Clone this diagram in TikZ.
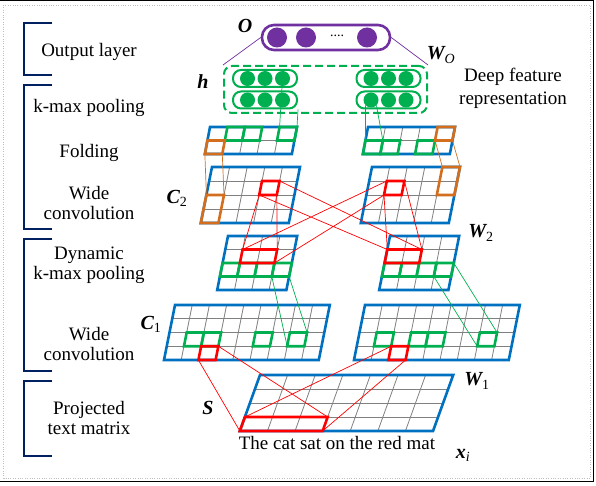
\documentclass[tikz,border=0pt]{standalone}
\usepackage{fontspec}
\setmainfont{Liberation Serif}
\definecolor{navy}{RGB}{0,32,96}
\definecolor{cblue}{RGB}{0,112,192}
\definecolor{cgreen}{RGB}{0,176,80}
\definecolor{corange}{RGB}{210,110,30}
\definecolor{cpurple}{RGB}{112,48,160}
\begin{document}
\begin{tikzpicture}[x=1pt, y=1pt, yscale=-1, font=\fontsize{19}{20}\selectfont,
	gridline/.style={draw=gray, line width=0.8pt},
	bluebox/.style={draw=cblue, line width=2.6pt},
	gcell/.style={draw=cgreen, line width=2.6pt},
	rcell/.style={draw=red, line width=2.6pt},
	ocell/.style={draw=corange, line width=2.6pt},
	link/.style={line width=0.7pt},
	bracket/.style={draw=navy, line width=2.6pt},
	lbl/.style={font=\fontsize{20}{20}\selectfont\bfseries\itshape},
	capsule/.style={draw=cgreen, line width=2pt, rounded corners=8pt, minimum width=64, minimum height=17, inner sep=0},
	hdot/.style={circle, fill=cgreen, minimum size=15, inner sep=0},
	odot/.style={circle, fill=cpurple, minimum size=20, inner sep=0}]
	\useasboundingbox (0,0) rectangle (596,486);
	\def\slgrid#1#2{
		\foreach \i in {1,...,#1} \draw[gridline] (\i,0) -- (\i,#2);
		\foreach \j in {1,...,#2} \draw[gridline] (0,\j) -- (#1,\j);
		\draw[bluebox] (0,0) rectangle (#1,#2);}
	% frame
	\draw[gray!50, dotted] (3.5,5) rectangle (590,478);
	\draw[line width=1pt] (0,1) -- (593.5,1) -- (593.5,481.5) -- (0,481.5);
	% stages on the left
	\draw[bracket] (52,23) -| (24,75) -- (52,75);
	\draw[bracket] (52,85) -| (24,229) -- (52,229);
	\draw[bracket] (52,239) -| (24,371) -- (52,371);
	\draw[bracket] (52,381) -| (24,456) -- (52,456);
	\node (out) at (89,52) {Output layer};
	\node (kmax) at (89,108) {k-max pooling};
	\node (fold) at (89,153) {Folding};
	\node[align=center] (wide2) at (89,203) {Wide\\convolution};
	\node[align=center] (dyn) at (89,265) {Dynamic\\k-max pooling};
	\node[align=center] (wide1) at (89,344) {Wide\\convolution};
	\node[align=center] (proj) at (89,418) {Projected\\text matrix};
	% output layer and deep features
	\node[draw=cpurple, line width=2.6pt, rounded corners=12pt, minimum width=128, minimum height=25, inner sep=0] (O) at (326,37.5) {};
	\foreach \x [count=\k] in {277,306,367} \node[odot] (o\k) at (\x,37.5) {};
	\node[font=\fontsize{14}{14}\selectfont] (odots) at (337,36) {....};
	\node[draw=cgreen, line width=2pt, dash pattern=on 8pt off 4pt, rounded corners=8pt, minimum width=203, minimum height=47, inner sep=0] (h) at (325.5,89.5) {};
	\foreach \n/\x/\y in {hl1/265/78.5, hl2/265/100, hr1/388.5/78.5, hr2/388.5/100} {
		\node[capsule] (\n) at (\x,\y) {};
		\foreach \k in {1,2,3} \node[hdot] (\n-\k) at (\x-35+17.5*\k,\y) {};
	}
	\draw[link, cpurple] (O.west) -- (h.north west) (O.east) -- (h.north east);
	% k-max pooling
	\begin{scope}[shift={(210,127)}, xslant=-0.19, x=17.4pt, y=13.5pt]
		\slgrid{5}{2}
		\foreach \c in {1,2,4} \draw[gcell] (\c,0) rectangle ++(1,1);
		\draw[ocell] (0,1) rectangle ++(1,1);
		\coordinate (pl-g1) at (4,0); \coordinate (pl-g2) at (5,0);
		\coordinate (pl-o1) at (0,2); \coordinate (pl-o2) at (1,2);
	\end{scope}
	\begin{scope}[shift={(368,127)}, xslant=-0.19, x=17.4pt, y=13.5pt]
		\slgrid{5}{2}
		\foreach \c in {0,1,3} \draw[gcell] (\c,1) rectangle ++(1,1);
		\draw[ocell] (4,0) rectangle ++(1,1);
		\coordinate (pr-g1) at (0,1); \coordinate (pr-g2) at (1,1);
		\coordinate (pr-o1) at (4,1); \coordinate (pr-o2) at (5,1);
	\end{scope}
	% second wide convolution
	\begin{scope}[shift={(212,167)}, xslant=-0.2, x=17.6pt, y=14pt]
		\slgrid{5}{4}
		\draw[rcell] (3,1) rectangle ++(1,1);
		\draw[ocell] (0,2) rectangle ++(1,2);
		\coordinate (c2l-o1) at (0,2); \coordinate (c2l-o2) at (1,2);
		\coordinate (c2l-tr) at (4,1); \coordinate (c2l-bl) at (3,2); \coordinate (c2l-br) at (4,2);
	\end{scope}
	\begin{scope}[shift={(372,167)}, xslant=-0.2, x=17.6pt, y=14pt]
		\slgrid{5}{4}
		\draw[rcell] (1,1) rectangle ++(1,1);
		\draw[ocell] (4,0) rectangle ++(1,2);
		\coordinate (c2r-o1) at (4,0); \coordinate (c2r-o2) at (5,0);
		\coordinate (c2r-tl) at (1,1); \coordinate (c2r-tr) at (2,1); \coordinate (c2r-bl) at (1,2);
	\end{scope}
	% dynamic k-max pooling
	\begin{scope}[shift={(228,236)}, xslant=-0.2, x=17.3pt, y=13.5pt]
		\slgrid{4}{4}
		\foreach \c in {0,...,3} \draw[gcell] (\c,2) rectangle ++(1,1);
		\draw[rcell] (1,1) rectangle (3,2);
		\coordinate (dl-tl) at (1,1); \coordinate (dl-tr) at (3,1); \coordinate (dl-br) at (3,2);
		\coordinate (dl-g1) at (3,3); \coordinate (dl-g2) at (4,3);
	\end{scope}
	\begin{scope}[shift={(390,236)}, xslant=-0.2, x=17.3pt, y=13.5pt]
		\slgrid{4}{4}
		\foreach \c in {0,...,3} \draw[gcell] (\c,2) rectangle ++(1,1);
		\draw[rcell] (0,1) rectangle (2,2);
		\coordinate (dr-tl) at (0,1); \coordinate (dr-tr) at (2,1);
		\coordinate (dr-g1) at (3,3); \coordinate (dr-g2) at (4,2);
	\end{scope}
	% first wide convolution
	\begin{scope}[shift={(175,305)}, xslant=-0.2, x=17.2pt, y=13.75pt]
		\slgrid{9}{4}
		\foreach \c in {1,2,5,7} \draw[gcell] (\c,2) rectangle ++(1,1);
		\draw[rcell] (2,3) rectangle ++(1,1);
		\coordinate (c1l-g1) at (7,3); \coordinate (c1l-g2) at (8,2);
		\coordinate (c1l-tr) at (3,3); \coordinate (c1l-bl) at (2,4);
	\end{scope}
	\begin{scope}[shift={(365,305)}, xslant=-0.2, x=17.2pt, y=13.75pt]
		\slgrid{9}{4}
		\foreach \c in {1,3,4,7} \draw[gcell] (\c,2) rectangle ++(1,1);
		\draw[rcell] (2,3) rectangle ++(1,1);
		\coordinate (c1r-g1) at (7,3); \coordinate (c1r-g2) at (8,2);
		\coordinate (c1r-tl) at (2,3); \coordinate (c1r-br) at (3,4);
	\end{scope}
	% sentence matrix
	\begin{scope}[shift={(260,375)}, xslant=-0.36, x=27.6pt, y=14pt]
		\slgrid{7}{4}
		\draw[rcell] (0,3) rectangle (3,4);
		\coordinate (s-tl) at (0,3); \coordinate (s-tr) at (3,3);
		\coordinate (s-bl) at (0,4); \coordinate (s-br) at (3,4);
	\end{scope}
	% links between the maps
	\draw[link, cgreen] (hl1-3.center) -- (pl-g1) (hl2.south east) -- (pl-g2)
		(hr2-1.south west) -- (pr-g1) (hr2-1.south east) -- (pr-g2)
		(dl-g1) -- (c1l-g1) (dl-g2) -- (c1l-g2) (dr-g1) -- (c1r-g1) (dr-g2) -- (c1r-g2);
	\draw[link, corange] (pl-o1) -- (c2l-o1) (pl-o2) -- (c2l-o2) (pr-o1) -- (c2r-o1) (pr-o2) -- (c2r-o2);
	\draw[link, red] (c2l-bl) -- (dl-tl) (c2l-br) -- (dl-tr) (c2l-tr) -- (dr-tr) (c2l-bl) -- (dr-tl)
		(c2r-bl) -- (dr-tl) (c2r-tr) -- (dr-tr) (c2r-tl) -- (dl-tl) (c2r-bl) -- (dl-br)
		(c1l-bl) -- (s-bl) (c1l-tr) -- (s-tr) (c1r-tl) -- (s-tl) (c1r-br) -- (s-br);
	% labels
	\node[lbl] (olab) at (245,26) {O};
	\node[lbl] (hlab) at (203,82) {h};
	\node[lbl] (wo) at (441,55) {W\textsubscript{\mdseries O}};
	\node[align=center] (deep) at (513,88) {Deep feature\\[3pt]representation};
	\node[lbl] (c2) at (177,198) {C\textsubscript{\mdseries\upshape 2}};
	\node[lbl] (w2) at (481,233) {W\textsubscript{\mdseries\upshape 2}};
	\node[lbl] (c1) at (151,324) {C\textsubscript{\mdseries\upshape 1}};
	\node[lbl] (w1) at (477,381) {W\textsubscript{\mdseries\upshape 1}};
	\node[lbl] (slab) at (208,408) {S};
	\node (sent) at (337,443) {The cat sat on the red mat};
	\node[lbl] (xi) at (463,455) {x\textsubscript{\mdseries i}};
\end{tikzpicture}
\end{document}
